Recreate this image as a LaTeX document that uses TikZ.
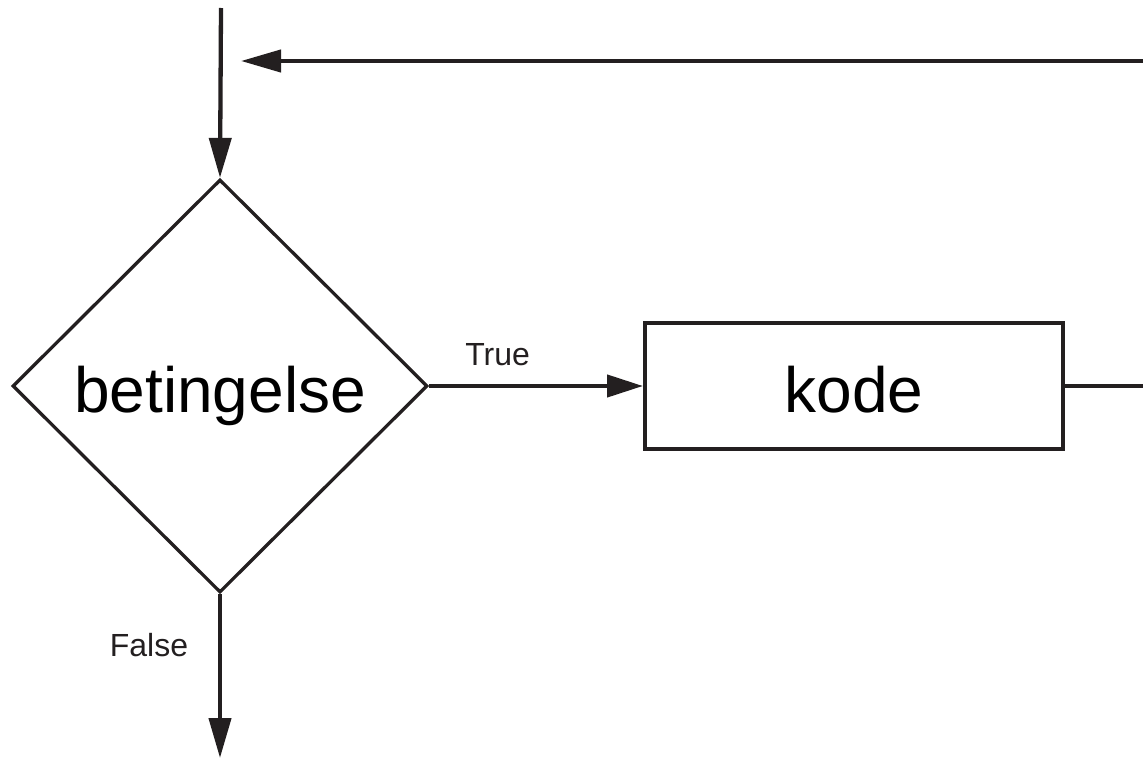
\documentclass[tikz,border=0pt]{standalone}
\usepackage{fontspec}
\setmainfont{Liberation Sans}
\usetikzlibrary{shapes.geometric,arrows.meta}
\definecolor{ink}{RGB}{35,31,32}
\tikzset{
  flow/.style={draw=ink, line width=4.3pt, -{Triangle[length=40pt,width=22pt]}},
  plain/.style={draw=ink, line width=4.3pt},
  bigtext/.style={font=\fontsize{64}{70}\selectfont, text height=52pt, text depth=0pt},
  decision/.style={diamond, draw=ink, line width=3.3pt, minimum width=415pt, minimum height=413pt, inner sep=0pt, bigtext},
  process/.style={rectangle, draw=ink, line width=4pt, minimum width=418pt, minimum height=126pt, inner sep=0pt, bigtext},
  lbl/.style={font=\fontsize{32}{36}\selectfont, text=ink, inner sep=0pt}
}
\begin{document}
\begin{tikzpicture}[x=1pt, y=-1pt]
  \useasboundingbox (0,0) rectangle (1143,760);
  \node[decision] (cond) at (220,386) {betingelse};
  \node[process] (code) at (854,386) {kode};
  \coordinate (start) at (221,8);
  \coordinate (back) at (1143,61);
  \coordinate (backtip) at (241,61);
  \coordinate (out) at (1143,386);
  \coordinate (exit) at (220,758);
  % entry into the loop
  \draw[flow] (start) -- (cond.north);
  % return path from the end of the body
  \draw[flow] (back) -- (backtip);
  % branches
  \draw[flow, -{Triangle[length=36pt,width=22pt]}] (cond.east) -- node[lbl, above=18pt, pos=0.32] (t) {True} (code.west);
  \draw[plain] (code.east) -- (out);
  \draw[flow] (cond.south) -- (exit);
  \node[lbl] (f) at (149,645) {False};
\end{tikzpicture}
\end{document}
